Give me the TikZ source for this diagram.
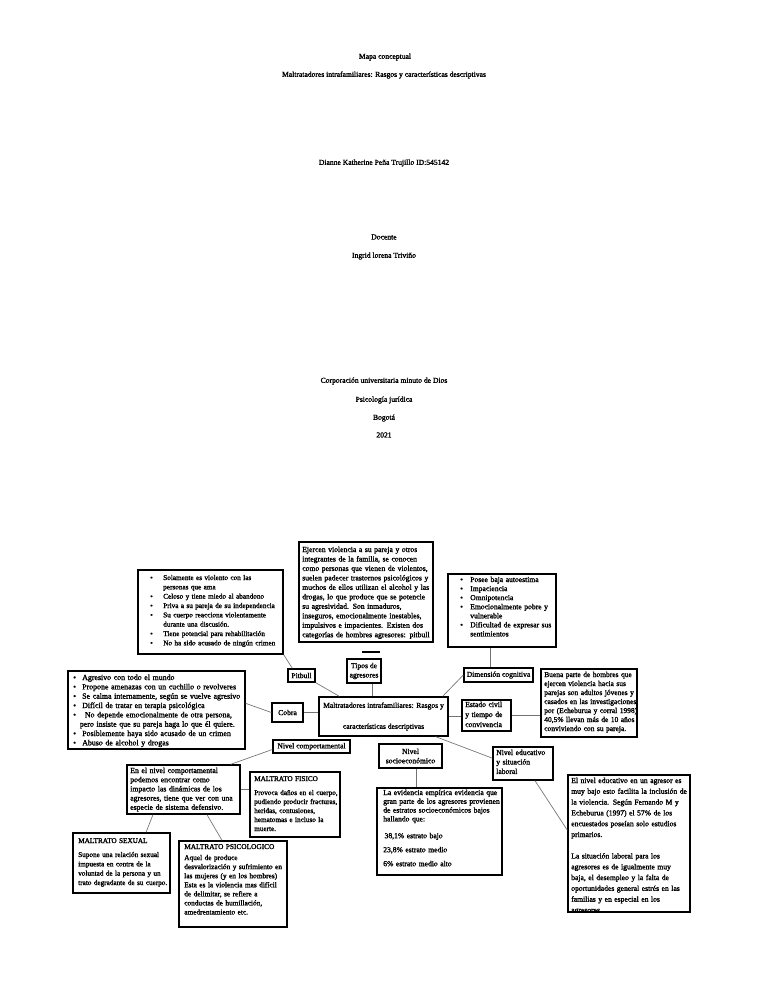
\documentclass[tikz,border=0pt]{standalone}
\usepackage{fontspec}
\setmainfont{Liberation Serif}[UprightFeatures={FakeBold=2}]
\usetikzlibrary{fit,calc}
\newcommand\fsz[2]{\fontsize{#1}{#2}\selectfont}
\newcommand\jl[1]{\makebox[\linewidth][s]{#1}}
\newcommand\bi[2]{\makebox[#1][l]{\textbullet}#2}
\newcommand\ci[2]{\hspace*{#1}#2}
\begin{document}
\begin{tikzpicture}[x=0.75pt,y=-0.75pt,
  bx/.style={draw=black, line width=1pt, inner sep=0pt},
  bxt/.style={bx, align=center, font=\fsz{5.7}{7}},
  lk/.style={draw=black!55, line width=0.5pt},
  dsh/.style={draw=black, line width=0.9pt},
  tx/.style={anchor=base west, inner sep=0pt, align=left, font=\fsz{5.7}{7}},
  ttl/.style={inner sep=0pt, font=\fsz{5.7}{7}}]
\fill[white] (0,0) rectangle (768,994);
\useasboundingbox (0,0) rectangle (768,994);

% title page
\node[ttl] (t1) at (385,57) {Mapa conceptual};
\node[ttl] (t2) at (384,75) {Maltratadores intrafamiliares: Rasgos y características descriptivas};
\node[ttl] (t3) at (384,163) {Dianne Katherine Peña Trujillo ID:545142};
\node[ttl] (t4) at (384,237) {Docente};
\node[ttl] (t5) at (384,256) {Ingrid lorena Triviño};
\node[ttl] (t6) at (384,381) {Corporación universitaria minuto de Dios};
\node[ttl] (t7) at (384,400) {Psicología jurídica};
\node[ttl] (t8) at (384,418) {Bogotá};
\node[ttl] (t9) at (384,435) {2021};

% Pitbull traits
\node[bx, fit={(138,570)(283,654)}] (sol) {};
\node[tx, text width=110pt, font=\fsz{5.4}{7}] (solt) at (150,580) {%
\bi{9.75pt}{Solamente es violento con las}\\
\ci{9.75pt}{personas que ama}\\
\bi{9.75pt}{Celoso y tiene miedo al abandono}\\
\bi{9.75pt}{Priva a su pareja de su independencia}\\
\bi{9.75pt}{Su cuerpo reacciona violentamente}\\
\ci{9.75pt}{durante una discusión.}\\
\bi{9.75pt}{Tiene potencial para rehabilitación}\\
\bi{9.75pt}{No ha sido acusado de ningún crimen}};

% general description
\node[bx, fit={(299,542)(433,642)}] (ej) {};
\node[tx, text width=96.75pt, font=\fsz{5.75}{7.1}] (ejt) at (302,552) {%
\jl{Ejercen violencia a su pareja y otros}\\
\jl{integrantes de la familia, se conocen}\\
\jl{como personas que vienen de violentos,}\\
\jl{suelen padecer trastornos psicológicos y}\\
\jl{muchos de ellos utilizan el alcohol y las}\\
\jl{drogas, lo que produce que se potencie}\\
\jl{su agresividad. Son inmaduros,}\\
\jl{inseguros, emocionalmente inestables,}\\
\jl{impulsivos e impacientes. Existen dos}\\
\jl{categorías de hombres agresores: pitbull}};

% cognitive traits
\node[bx, fit={(448,574)(556,647)}] (posee) {};
\node[tx, text width=90pt, font=\fsz{5.7}{6.8}] (poseet) at (460,582) {%
\bi{7.5pt}{Posee baja autoestima}\\
\bi{7.5pt}{Impaciencia}\\
\bi{7.5pt}{Omnipotencia}\\
\bi{7.5pt}{Emocionalmente pobre y}\\
\ci{7.5pt}{vulnerable}\\
\bi{7.5pt}{Dificultad de expresar sus}\\
\ci{7.5pt}{sentimientos}};

% Cobra traits
\node[bx, fit={(68,671)(245,749)}] (agr) {};
\node[tx, text width=170pt, font=\fsz{5.9}{7}] (agrt) at (73,680) {%
\bi{6.75pt}{Agresivo con todo el mundo}\\
\bi{6.75pt}{Propone amenazas con un cuchillo o revolveres}\\
\bi{6.75pt}{Se calma internamente, según se vuelve agresivo}\\
\bi{6.75pt}{Difícil de tratar en terapia psicológica}\\
\bi{6.75pt}{\hspace{2pt}No depende emocionalmente de otra persona,}\\
\ci{5pt}{pero insiste que su pareja haga lo que él quiere.}\\
\bi{6.75pt}{Posiblemente haya sido acusado de un crimen}\\
\bi{6.75pt}{Abuso de alcohol y drogas}};

% small label boxes
\node[bxt, minimum width=25.5pt, minimum height=18pt] (tipos) at (364,671) {Tipos de\\agresores};
\node[bxt, minimum width=20.25pt, minimum height=9.75pt] (pit) at (301.5,675.5) {Pitbull};
\node[bxt, minimum width=23.25pt, minimum height=14.25pt] (celos) at (287.5,712.5) {Cobra};
\node[bxt, minimum width=51.75pt, minimum height=10.5pt] (dim) at (498.5,675) {Dimensión cognitiva};
\node[bxt, minimum width=57.75pt, minimum height=9.75pt] (ncomp) at (311.5,746.5) {Nivel comportamental};
\node[bxt, minimum width=47.25pt, minimum height=18pt] (nsoc) at (410.5,756) {Nivel\\socioeconómico};
\node[bxt, minimum width=96.75pt, minimum height=29.25pt, font=\fsz{5.7}{15.75}] (mt) at (383.5,716.5)
  {Maltratadores intrafamiliares: Rasgos y\\características descriptivas};

\node[bx, fit={(462,700)(511,731)}] (est) {};
\node[tx, text width=44pt, font=\fsz{5.7}{7.5}] (estt) at (465,707) {Estado civil\\y tiempo de\\convivencia};

\node[bx, fit={(541,669)(637,737)}] (buena) {};
\node[tx, text width=67.5pt, font=\fsz{5.6}{6.75}] (buenat) at (544,677) {%
\jl{Buena parte de hombres que}\\
\jl{ejercen violencia hacia sus}\\
\jl{parejas son adultos jóvenes y}\\
\jl{casados en las investigaciones}\\
\jl{por (Echeburua y corral 1998)}\\
\jl{40,5\% llevan más de 10 años}\\
conviviendo con su pareja.};

\node[bx, fit={(493,747)(553,780)}] (ned) {};
\node[tx, text width=55pt, font=\fsz{5.7}{7.1}] (nedt) at (496,755) {Nivel educativo\\y situación\\laboral};

\node[bx, fit={(568,775)(690,912)}] (big) {};
\begin{scope}
\clip (568,775) rectangle (690,912);
\node[tx, text width=87pt, font=\fsz{5.7}{8.1}] (bigt) at (571,783) {%
\jl{El nivel educativo en un agresor es}\\
\jl{muy bajo esto facilita la inclusión de}\\
\jl{la violencia. Según Fernando M y}\\
\jl{Echeburua (1997) el 57\% de los}\\
\jl{encuestados poseían solo estudios}\\
primarios.\\[8pt]
\jl{La situación laboral para los}\\
\jl{agresores es de igualmente muy}\\
\jl{baja, el desempleo y la falta de}\\
\jl{oportunidades general estrés en las}\\
\jl{familias y en especial en los}\\
agresores};
\end{scope}

% behavioural level
\node[bx, fit={(127,765)(240,814)}] (enel) {};
\node[tx, text width=81pt, font=\fsz{5.8}{6.9}] (enelt) at (130,773) {%
\jl{En el nivel comportamental}\\
\jl{podemos encontrar como}\\
\jl{impacto las dinámicas de los}\\
\jl{agresores, tiene que ver con una}\\
especie de sistema defensivo.};

\node[bx, fit={(250,772)(340,837)}] (fis) {};
\node[tx, text width=80pt, font=\fsz{5.4}{6.75}] (fist) at (254,781) {%
MALTRATO FISICO\\[3.75pt]
Provoca daños en el cuerpo,\\
pudiendo producir fracturas,\\
heridas, contusiones,\\
hematomas e incluso la\\
muerte.};

\node[bx, fit={(179,841)(287,927)}] (psico) {};
\node[tx, text width=100pt, font=\fsz{5.5}{6.8}] (psicot) at (184,849) {%
MALTRATO PSICOLOGICO\\[1.5pt]
Aquel de produce\\
desvalorización y sufrimiento en\\
las mujeres (y en los hombres)\\
Esta es la violencia mas difícil\\
de delimitar, se refiere a\\
conductas de humillación,\\
amedrentamiento etc.};

\node[bx, fit={(73,833)(170,893)}] (sex) {};
\node[tx, text width=95pt, font=\fsz{5.4}{7}] (sext) at (78,843) {%
MALTRATO SEXUAL\\[3.5pt]
Supone una relación sexual\\
impuesta en contra de la\\
voluntad de la persona y un\\
trato degradante de su cuerpo.};

% socioeconomic level
\node[bx, fit={(377,788)(502,875)}] (evid) {};
\node[tx, text width=85.5pt, font=\fsz{5.7}{6.6}] (evidt) at (383,795) {%
\jl{La evidencia empírica evidencia que}\\
\jl{gran parte de los agresores provienen}\\
\jl{de estratos socioeconómicos bajos}\\
hallando que:\\[6pt]
\hspace*{1pt}38,1\% estrato bajo\\[3.9pt]
23,8\% estrato medio\\[3.9pt]
6\% estrato medio alto};

% connectors
\draw[lk] (sol.south east) -- ([xshift=3.75pt]pit.north west);
\draw[lk] (pit.south east) -- ([xshift=15.75pt]mt.north west);
\draw[lk] ([xshift=6pt]tipos.south) -- ([xshift=6pt]tipos.south |- mt.north);
\draw[lk] ([xshift=-4.5pt]mt.north east) -- (dim.west);
\draw[lk] ([xshift=-6.4pt]dim.north) -- ([xshift=-6.4pt]dim.north |- posee.south);
\draw[lk] (mt.east) -- (mt.east -| est.west);
\draw[lk] (est.east) -- (est.east -| buena.west);
\draw[lk] ([xshift=-9.75pt]mt.south east) -- ([yshift=4pt]ned.west);
\draw[lk] ([xshift=9pt]ned.south) -- ([yshift=10pt]big.west);
\draw[lk] (celos.east) -- (celos.east -| mt.west);
\draw[lk] (celos.west) -- ([yshift=5pt]agr.east);
\draw[lk] ([yshift=-2.25pt]ncomp.west) -- ([xshift=-7.5pt]enel.north east);
\draw[lk] (enel.east) -- (enel.east -| fis.west);
\draw[lk] ([xshift=-22.9pt]enel.south) -- ([xshift=18.4pt]sex.north);
\draw[lk] ([xshift=17.6pt]enel.south) -- ([xshift=-8.25pt]psico.north);
\draw[lk] ([xshift=4pt]nsoc.south) -- ([xshift=4pt]nsoc.south |- evid.north);
\draw[dsh] (362,652) -- (380,652);
\draw[dsh] (400,736) -- (415,736);
\end{tikzpicture}
\end{document}
